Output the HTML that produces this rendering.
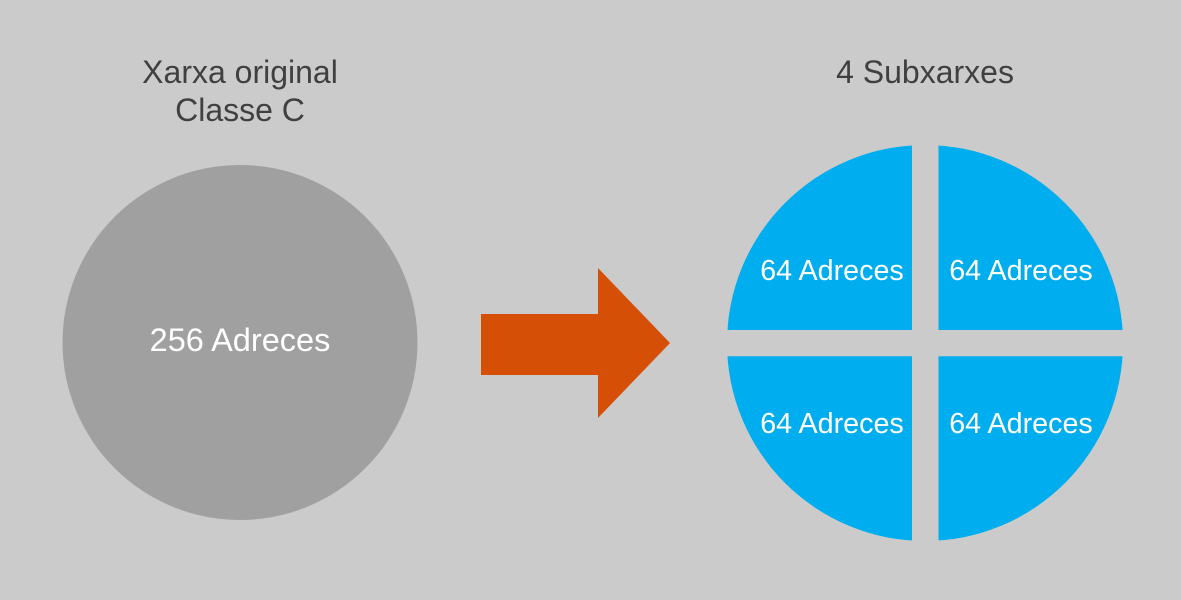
<!DOCTYPE html>
<html><head><meta charset="utf-8"><style>
html,body{margin:0;padding:0;background:#cbcbcb;}
svg{display:block;}
text{font-family:"Liberation Sans",Arial,sans-serif;}
</style></head><body>
<svg width="1181" height="600" viewBox="0 0 1181 600">
<rect x="0" y="0" width="1181" height="600" fill="#cbcbcb"/>
<g>
<text x="240" y="83" font-size="32" fill="#404040" text-anchor="middle">Xarxa original</text>
<text x="240" y="121" font-size="32" fill="#404040" text-anchor="middle">Classe C</text>
</g>
<circle cx="240" cy="342.5" r="177.5" fill="#a0a0a0"/>
<text x="240" y="351" font-size="32.5" fill="#ffffff" text-anchor="middle">256 Adreces</text>
<polygon points="481,314 598,314 598,268 670,343 598,418 598,375 481,375" fill="#d54f07"/>
<text x="925" y="83" font-size="32" fill="#404040" text-anchor="middle">4 Subxarxes</text>
<g>
<circle cx="925" cy="343" r="198" fill="#00adee"/>
<rect x="912" y="140" width="26.5" height="410" fill="#cbcbcb"/>
<rect x="720" y="330" width="410" height="26.3" fill="#cbcbcb"/>
</g>
<text x="832" y="280" font-size="28.7" fill="#ffffff" text-anchor="middle">64 Adreces</text>
<text x="1021" y="280" font-size="28.7" fill="#ffffff" text-anchor="middle">64 Adreces</text>
<text x="832" y="433" font-size="28.7" fill="#ffffff" text-anchor="middle">64 Adreces</text>
<text x="1021" y="433" font-size="28.7" fill="#ffffff" text-anchor="middle">64 Adreces</text>
</svg>
</body></html>
